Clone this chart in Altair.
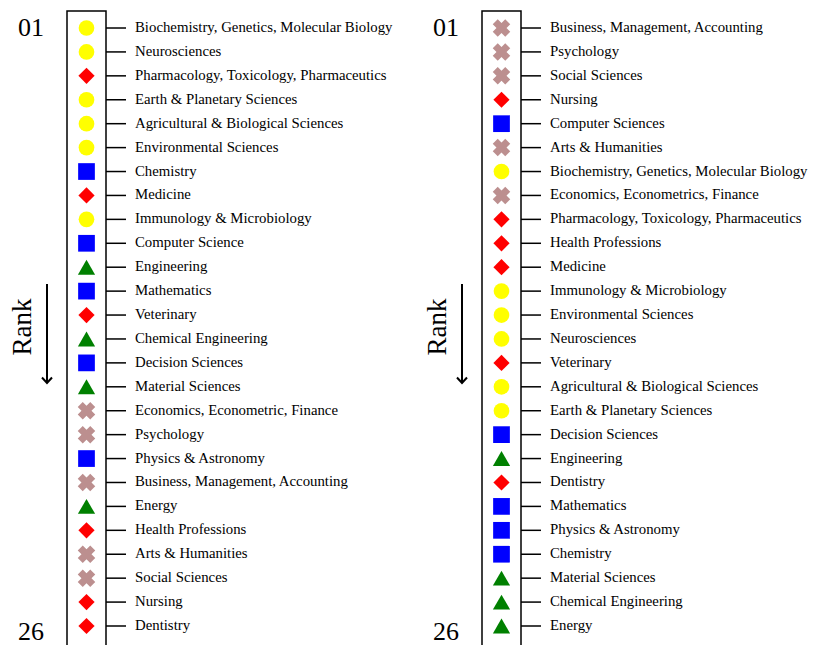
import altair as alt
import pandas as pd

ranks = list(range(1, 27))

left_fields = [
    "Biochemistry, Genetics, Molecular Biology", "Neurosciences",
    "Pharmacology, Toxicology, Pharmaceutics", "Earth & Planetary Sciences",
    "Agricultural & Biological Sciences", "Environmental Sciences", "Chemistry",
    "Medicine", "Immunology & Microbiology", "Computer Science", "Engineering",
    "Mathematics", "Veterinary", "Chemical Engineering", "Decision Sciences",
    "Material Sciences", "Economics, Econometric, Finance", "Psychology",
    "Physics & Astronomy", "Business, Management, Accounting", "Energy",
    "Health Professions", "Arts & Humanities", "Social Sciences", "Nursing",
    "Dentistry",
]
left_groups = [
    "life", "life", "health", "life", "life", "life", "physical", "health",
    "life", "physical", "engineering", "physical", "health", "engineering",
    "physical", "engineering", "social", "social", "physical", "social",
    "engineering", "health", "social", "social", "health", "health",
]

right_fields = [
    "Business, Management, Accounting", "Psychology", "Social Sciences", "Nursing",
    "Computer Sciences", "Arts & Humanities",
    "Biochemistry, Genetics, Molecular Biology", "Economics, Econometrics, Finance",
    "Pharmacology, Toxicology, Pharmaceutics", "Health Professions", "Medicine",
    "Immunology & Microbiology", "Environmental Sciences", "Neurosciences",
    "Veterinary", "Agricultural & Biological Sciences", "Earth & Planetary Sciences",
    "Decision Sciences", "Engineering", "Dentistry", "Mathematics",
    "Physics & Astronomy", "Chemistry", "Material Sciences", "Chemical Engineering",
    "Energy",
]
right_groups = [
    "social", "social", "social", "health", "physical", "social", "life", "social",
    "health", "health", "health", "life", "life", "life", "health", "life", "life",
    "physical", "engineering", "health", "physical", "physical", "physical",
    "engineering", "engineering", "engineering",
]

group_names = ["life", "health", "physical", "engineering", "social"]
group_shapes = ["circle", "diamond", "square", "triangle-up", "cross"]
group_colors = ["#ffff00", "#ff0000", "#0000ff", "#008000", "#bc8f8f"]
group_sizes = [246, 313, 246, 324, 280]

top_label = "01"
bottom_label = "26"
axis_title = "Rank"

FONT = "Liberation Serif"
BOX_W = 39
BOX_H = 636


def panel(fields, groups):
    df = pd.DataFrame({"rank": ranks, "field": fields, "group": groups})
    base = alt.Chart(df)
    y = alt.Y("rank:Q", axis=None,
              scale=alt.Scale(domain=[0.289, 26.878], reverse=True, nice=False, zero=False))

    markers = base.mark_point(filled=True, opacity=1, strokeWidth=0).encode(
        x=alt.value(BOX_W / 2),
        y=y,
        shape=alt.Shape("group:N", scale=alt.Scale(domain=group_names, range=group_shapes), legend=None),
        color=alt.Color("group:N", scale=alt.Scale(domain=group_names, range=group_colors), legend=None),
        size=alt.Size("group:N", scale=alt.Scale(domain=group_names, range=group_sizes), legend=None),
        angle=alt.condition(alt.datum.group == "social", alt.value(45), alt.value(0)),
    )
    ticks = base.mark_rule(color="black", strokeWidth=1.5).encode(
        x=alt.value(BOX_W), x2=alt.value(BOX_W + 20), y=y
    )
    labels = base.mark_text(align="left", baseline="middle", font=FONT, fontSize=14.8,
                            color="black").encode(
        x=alt.value(BOX_W + 29), y=y, text="field:N"
    )
    top = base.mark_text(align="right", baseline="middle", font=FONT, fontSize=26,
                         color="black", text=top_label).encode(
        x=alt.value(-23), y=alt.value(17)
    ).transform_filter(alt.datum.rank == 1)
    bottom = base.mark_text(align="right", baseline="middle", font=FONT, fontSize=26,
                            color="black", text=bottom_label).encode(
        x=alt.value(-23), y=alt.value(621)
    ).transform_filter(alt.datum.rank == 1)
    title = base.mark_text(align="center", baseline="middle", font=FONT, fontSize=27,
                           angle=270, color="black", text=axis_title).encode(
        x=alt.value(-44), y=alt.value(316)
    ).transform_filter(alt.datum.rank == 1)
    shaft = base.mark_rule(color="black", strokeWidth=2).encode(
        x=alt.value(-20), y=alt.value(273), y2=alt.value(371)
    ).transform_filter(alt.datum.rank == 1)
    head = base.mark_point(shape="M-1,-1.1L0,0L1,-1.1", filled=False, size=100,
                           color="black", strokeWidth=2, opacity=1).encode(
        x=alt.value(-20), y=alt.value(372)
    ).transform_filter(alt.datum.rank == 1)

    return alt.layer(ticks, markers, labels, top, bottom, title, shaft, head).properties(
        width=BOX_W, height=BOX_H
    )


chart = alt.hconcat(
    panel(left_fields, left_groups),
    panel(right_fields, right_groups),
    spacing=415 - BOX_W,
    bounds="flush",
).properties(
    padding={"left": 0, "top": 2, "right": 0, "bottom": 0}
).configure_view(
    stroke="black", strokeWidth=1.5
).resolve_scale(shape="independent", color="independent", size="independent")

chart.save("out.html", embed_options={"renderer": "svg", "actions": False})
